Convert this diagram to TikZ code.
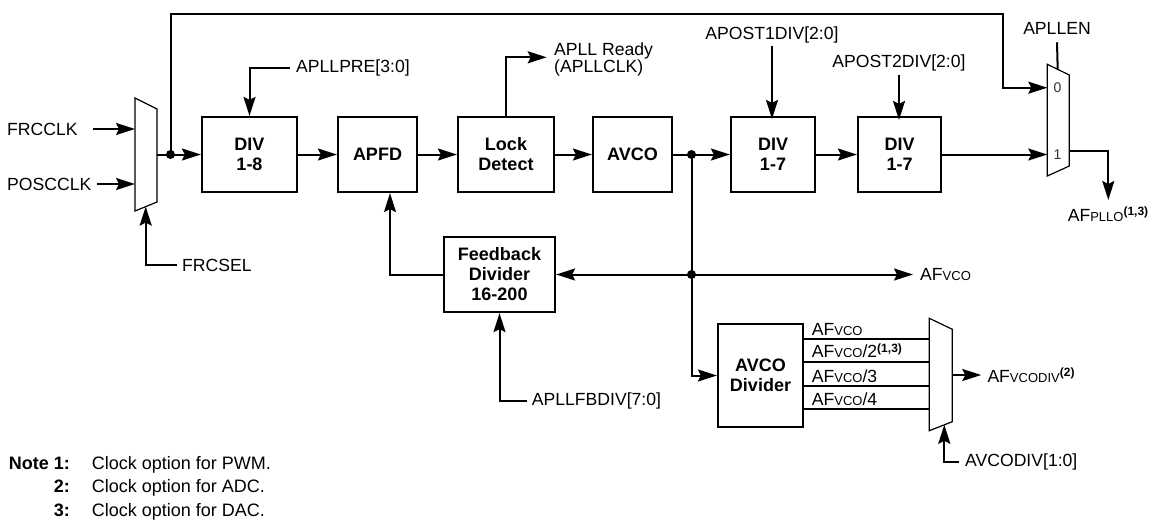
\documentclass[tikz,border=0pt]{standalone}
\usepackage{fontspec}
\setmainfont{Liberation Sans}
\usetikzlibrary{arrows.meta}
\newcommand\smc[1]{{\fontsize{13}{12}\selectfont #1}}
\newcommand\supb[1]{\raisebox{5.5pt}{\fontsize{12}{11}\selectfont\bfseries #1}}
\begin{document}
\begin{tikzpicture}[x=1pt,y=-1pt,
  every node/.style={inner sep=0pt, font=\fontsize{17.6}{20}\selectfont},
  blk/.style={draw, line width=2.2pt, align=center, font=\fontsize{18}{20}\selectfont\bfseries},
  wire/.style={line width=2pt},
  arr/.style={wire, -{Stealth[length=19pt,width=12pt,inset=3pt]}},
  muxs/.style={draw, line width=1.2pt, fill=white},
  dotn/.style={circle, fill, minimum size=9pt, inner sep=0pt},
  muxlbl/.style={font=\fontsize{14}{14}\selectfont, text=black!80},
  notehd/.style={anchor=base east, font=\fontsize{18}{20}\selectfont\bfseries},
  notetx/.style={anchor=base west, font=\fontsize{18}{20}\selectfont},
]
\useasboundingbox (0,0) rectangle (1160,523);

% blocks
\node[blk, minimum width=95pt, minimum height=75pt] (div8) at (249.5,154.5) {DIV\\1-8};
\node[blk, minimum width=79pt, minimum height=75pt] (apfd) at (377.5,154.5) {APFD};
\node[blk, minimum width=96pt, minimum height=75pt] (lock) at (506,154.5) {Lock\\Detect};
\node[blk, minimum width=79pt, minimum height=75pt] (avco) at (632.5,154.5) {AVCO};
\node[blk, minimum width=84pt, minimum height=75pt] (div7a) at (773,154.5) {DIV\\1-7};
\node[blk, minimum width=83pt, minimum height=75pt] (div7b) at (899.5,154.5) {DIV\\1-7};
\node[blk, minimum width=111pt, minimum height=75pt] (fb) at (499.5,274.5) {Feedback\\Divider\\16-200};
\node[blk, minimum width=85pt, minimum height=103pt] (avdiv) at (760.5,375.5) {AVCO\\Divider};

% muxes
\draw[muxs] (135,98) -- (157,109) -- (157,202) -- (135,211) -- cycle;
\draw[muxs] (1047.3,64.3) -- (1069.3,75) -- (1069.3,166) -- (1047.3,176) -- cycle;
\draw[muxs] (929.3,318.3) -- (952.3,329.3) -- (952.3,421.7) -- (929.3,430.7) -- cycle;

\coordinate (m1a) at (135,129);
\coordinate (m1b) at (135,184);
\coordinate (m1out) at (157,154.5);
\coordinate (m1sel) at (145.7,206.6);
\coordinate (m2a) at (1047.3,87.7);
\coordinate (m2b) at (1047.3,154.5);
\coordinate (m2out) at (1069.3,151);
\coordinate (m2sel) at (1057.7,69.4);
\coordinate (m3i1) at (929.3,339);
\coordinate (m3i2) at (929.3,361.7);
\coordinate (m3i3) at (929.3,386);
\coordinate (m3i4) at (929.3,409.3);
\coordinate (m3out) at (952.3,375);
\coordinate (m3sel) at (944.3,424.8);
\coordinate (top1) at (1003,14);
\coordinate (rdy) at (546.7,57.3);
\coordinate (afpT) at (1108.3,200);

\node[muxlbl] (l0) at (1057.5,88) {0};
\node[muxlbl] (l1) at (1057.5,155) {1};

% texts
\node[anchor=west] (frcclk) at (7,129) {FRCCLK};
\node[anchor=west] (poscclk) at (7,184) {POSCCLK};
\node[anchor=west] (frcsel) at (182,265) {FRCSEL};
\node[anchor=west] (pre) at (296,68) {APLLPRE[3:0]};
\node[anchor=west, align=left, font=\fontsize{17.6}{17.6}\selectfont] (rdytxt) at (554,59.5) {APLL Ready\\(APLLCLK)};
\node (p1) at (772,35) {APOST1DIV[2:0]};
\node (p2) at (899,62.7) {APOST2DIV[2:0]};
\node (en) at (1057,28) {APLLEN};
\node (afpllo) at (1108,214) {AF\smc{PLLO}\supb{(1,3)}};
\node[anchor=west] (afv) at (920,274.5) {AF\smc{VCO}};
\node[anchor=west] (fbdiv) at (531.7,401) {APLLFBDIV[7:0]};
\node[anchor=west] (afvd) at (987.3,375) {AF\smc{VCODIV}\supb{(2)}};
\node[anchor=west] (avcd) at (965,462) {AVCODIV[1:0]};
\node[anchor=base west] (o1) at (811.7,335) {AF\smc{VCO}};
\node[anchor=base west] (o2) at (811.7,357.7) {AF\smc{VCO}/2\supb{(1,3)}};
\node[anchor=base west] (o3) at (811.7,382) {AF\smc{VCO}/3};
\node[anchor=base west] (o4) at (811.7,405.3) {AF\smc{VCO}/4};

% notes
\node[notehd] (n1) at (70,469) {Note 1:};
\node[notehd] (n2) at (70,492.7) {2:};
\node[notehd] (n3) at (70,516) {3:};
\node[notetx] (t1) at (91.7,469) {Clock option for PWM.};
\node[notetx] (t2) at (91.7,492.7) {Clock option for ADC.};
\node[notetx] (t3) at (91.7,516) {Clock option for DAC.};

% dots
\node[dotn] (d1) at (170.5,154.5) {};
\node[dotn] (d2) at (691.5,154.5) {};
\node[dotn] (d3) at (691.5,274.5) {};

% connectors
\draw[arr] ([xshift=15pt]frcclk.east) -- (m1a);
\draw[arr] ([xshift=5pt]poscclk.east) -- (m1b);
\draw[arr] ([xshift=-5pt]frcsel.west) -| (m1sel);
\draw[arr] (m1out) -- (div8.west);
\draw[arr] (d1.center) |- (top1) |- (m2a);
\draw[arr] ([xshift=-6pt]pre.west) -| (div8.north);
\draw[arr] (div8.east) -- (apfd.west);
\draw[arr] (apfd.east) -- (lock.west);
\draw[arr] (lock.east) -- (avco.west);
\draw[arr] (lock.north) |- (rdy);
\draw[arr] (avco.east) -- (div7a.west);
\draw[arr] (div7a.east) -- (div7b.west);
\draw[arr] (div7b.east) -- (m2b);
\draw[arr] ([yshift=-3pt]p1.south) -- ([yshift=-3pt]p1.south |- div7a.north);
\draw[arr] ([yshift=-4pt]p2.south) -- ([yshift=-4pt]p2.south |- div7b.north);
\draw[wire] ([yshift=-8pt]en.south) -- (m2sel);
\draw[arr] (m2out) -| (afpT);
\draw[arr] (d2.center) |- (avdiv.west);
\draw[arr] (d3.center) -- (fb.east);
\draw[arr] (d3.center) -- ([xshift=-7pt]afv.west);
\draw[arr] (fb.west) -| ([xshift=12.5pt]apfd.south);
\draw[arr] ([xshift=-5pt]fbdiv.west) -| (fb.south);
\draw[wire] (avdiv.east |- m3i1) -- (m3i1);
\draw[wire] (avdiv.east |- m3i2) -- (m3i2);
\draw[wire] (avdiv.east |- m3i3) -- (m3i3);
\draw[wire] (avdiv.east |- m3i4) -- (m3i4);
\draw[arr] (m3out) -- ([xshift=-6pt]afvd.west);
\draw[arr] ([xshift=-6pt]avcd.west) -| (m3sel);
\end{tikzpicture}
\end{document}
